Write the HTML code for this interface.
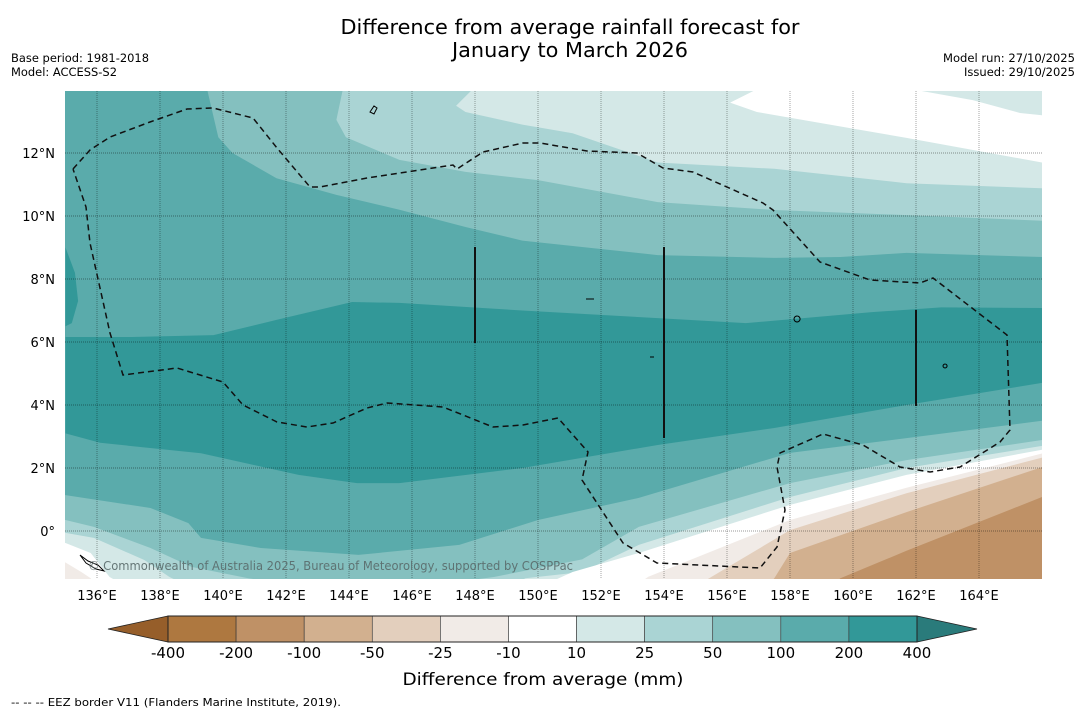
<!DOCTYPE html>
<html><head><meta charset="utf-8"><style>
body{margin:0;background:#fff;}
svg{display:block;font-family:"DejaVu Sans","Liberation Sans",sans-serif;}
</style></head><body>
<svg id="chart" width="1085" height="713" viewBox="0 0 1085 713" xmlns="http://www.w3.org/2000/svg">
<rect width="1085" height="713" fill="#fff"/>
<text x="570" y="34" text-anchor="middle" font-size="20" textLength="459" lengthAdjust="spacingAndGlyphs">Difference from average rainfall forecast for</text>
<text x="570" y="57" text-anchor="middle" font-size="20" textLength="236" lengthAdjust="spacingAndGlyphs">January to March 2026</text>
<text x="11" y="62" font-size="11.5" textLength="138" lengthAdjust="spacingAndGlyphs">Base period: 1981-2018</text>
<text x="11" y="76" font-size="11.5" textLength="106" lengthAdjust="spacingAndGlyphs">Model: ACCESS-S2</text>
<text x="1075" y="62" font-size="11.5" text-anchor="end" textLength="132" lengthAdjust="spacingAndGlyphs">Model run: 27/10/2025</text>
<text x="1075" y="76" font-size="11.5" text-anchor="end" textLength="111" lengthAdjust="spacingAndGlyphs">Issued: 29/10/2025</text>
<defs><clipPath id="mapclip"><rect x="65" y="91" width="977" height="488"/></clipPath></defs>
<g id="map" clip-path="url(#mapclip)"></g>
<g id="axes"></g>
<g id="cbar"></g>
<text x="543" y="685" text-anchor="middle" font-size="17" textLength="281" lengthAdjust="spacingAndGlyphs">Difference from average (mm)</text>
<text x="11" y="706" font-size="11" textLength="330" lengthAdjust="spacingAndGlyphs">--  --  -- EEZ border V11 (Flanders Marine Institute, 2019).</text>
</svg>
<script>
// Contour boundaries (lon arrays / lat arrays)
const c100nLon=[139.5,139.85,140.3,141.7,143.6,145.6,147.7,149.5,153.8,157.5,159.6,161.7,166];
const c100nLat=[14,12.5,12.0,11.2,10.67,10.2,9.65,9.22,8.76,8.67,8.7,8.83,8.7];
const c50nLon=[143.8,143.6,143.9,145.6,147.7,150.0,153.8,157.5,161.7,166];
const c50nLat=[14,13.05,12.5,11.78,11.4,11.14,10.44,10.19,10.03,9.85];
const c25nLon=[147.9,147.4,147.7,149.5,151.1,153.8,157.5,161.7,166];
const c25nLat=[14,13.5,13.3,12.9,12.63,11.7,11.5,11.04,10.88];
const c10nLon=[156.9,156.1,156.95,161.7,166];
const c10nLat=[14,13.6,13.3,12.48,11.7];
const c10neLon=[162.0,163.8,165.3,166];
const c10neLat=[14,13.68,13.27,13.2];
const c200nLon=[135,137.1,139.7,141.7,144.1,145.6,149.5,153.8,156.6,160.6,162.8,166];
const c200nLat=[6.16,6.16,6.22,6.7,7.27,7.24,7.0,6.76,6.6,6.95,7.1,7.08];
const c200sLon=[135,136.1,139.3,142.4,144.25,145.6,149.5,153.8,157.5,161.7,166];
const c200sLat=[3.1,2.8,2.47,1.78,1.52,1.52,2.0,2.73,3.27,4.0,4.7];
const c100sLon=[135,137.7,138.9,139.3,141.2,144.3,147.5,150.0,153.2,158,161.7,166];
const c100sLat=[1.14,0.73,0.25,-0.22,-0.54,-0.76,-0.44,0.35,1.05,2.48,2.95,3.5];
const c50sLon=[135,135.9,137.7,139.0,140.8,143,146,148.6,151.4,153.2,158,161.7,166];
const c50sLat=[0.35,0.13,-0.54,-1.14,-1.5,-1.8,-1.8,-1.46,-0.9,0.13,1.52,2.25,2.89];
const c25sLon=[135,135.9,137.5,138.3,139,149,149.6,151.4,153.2,158,161.7,166];
const c25sLat=[-0.06,-0.22,-0.92,-1.46,-1.8,-1.8,-1.5,-1.3,-0.44,1.08,2.0,2.7];
const c10sLon=[135,135.8,136.4,137,150,151.1,153.2,158,161.7,166];
const c10sLat=[-0.38,-0.7,-1.46,-1.8,-1.8,-1.3,-0.7,0.83,1.78,2.58];
const cm10Lon=[135,135.5,135.8,136,153,153.5,158,161.7,166];
const cm10Lat=[-1.0,-1.3,-1.5,-1.8,-1.8,-1.45,0.35,1.37,2.46];
const cm25Lon=[155,155.4,158,161.7,166];
const cm25Lat=[-1.8,-1.52,0.03,1.2,2.33];
const cm50Lon=[157.2,157.5,158,161.7,166];
const cm50Lat=[-1.8,-1.5,-0.7,0.6,2.03];
const cm100Lon=[159.2,159.6,161.7,166];
const cm100Lat=[-1.8,-1.5,-0.63,1.08];
// colorbar
const levels=["-400","-200","-100","-50","-25","-10","10","25","50","100","200","400"];
const binColors=["#ae7840","#bf9166","#d2b08f","#e3cfbd","#f1ebe7","#ffffff","#d4e8e7","#aad4d4","#84c0bf","#5aabab","#329898"];
const lonTicks=[136,138,140,142,144,146,148,150,152,154,156,158,160,162,164];
const latTicks=[0,2,4,6,8,10,12];

const NS="http://www.w3.org/2000/svg";
const X=lon=>97+(lon-136)*31.5;
const Y=lat=>531-lat*31.5;
function el(tag,attrs,parent){const e=document.createElementNS(NS,tag);for(const k in attrs)e.setAttribute(k,attrs[k]);parent.appendChild(e);return e;}
const map=document.getElementById('map');
function pts(lons,lats){return lons.map((l,i)=>X(l).toFixed(1)+','+Y(lats[i]).toFixed(1));}
function fillAbove(lons,lats,color,name){
  const p=pts(lons,lats);p.push(X(166.5)+','+Y(lats[lats.length-1]));p.push(X(166.5)+','+Y(14.5));p.push(X(lons[0])+','+Y(14.5));
  const e=el('polygon',{points:p.join(' '),fill:color,stroke:'#9fb',"stroke-opacity":0.0},map);
  
  
}
function fillBelow(lons,lats,color,name){
  const p=pts(lons,lats);p.push(X(166.5)+','+Y(lats[lats.length-1]));p.push(X(166.5)+','+Y(-2.5));p.push(X(134)+','+Y(-2.5));p.push(X(134)+','+Y(lats[0]));
  const e=el('polygon',{points:p.join(' '),fill:color},map);
  
  
}
const bg=el('rect',{x:60,y:85,width:990,height:500,fill:binColors[9]},map);


fillAbove(c100nLon,c100nLat,binColors[8],'band-50-100-north');
fillAbove(c50nLon,c50nLat,binColors[7],'band-25-50-north');
fillAbove(c25nLon,c25nLat,binColors[6],'band-10-25-north');
fillAbove(c10nLon,c10nLat,binColors[5],'band-neutral-north');
fillAbove(c10neLon,c10neLat,binColors[6],'band-10-25-northeast');
{const p=pts(c200nLon,c200nLat).concat(pts(c200sLon,c200sLat).reverse());
 const e=el('polygon',{points:p.join(' '),fill:binColors[10]},map);
 
 
 const w=el('polygon',{points:[X(135)+','+Y(9.0),X(135.3)+','+Y(8.2),X(135.4)+','+Y(7.3),X(135.2)+','+Y(6.6),X(135)+','+Y(6.5)].join(' '),fill:binColors[10]},map);
 
 }
fillBelow(c100sLon,c100sLat,binColors[8],'band-50-100-south');
fillBelow(c50sLon,c50sLat,binColors[7],'band-25-50-south');
fillBelow(c25sLon,c25sLat,binColors[6],'band-10-25-south');
fillBelow(c10sLon,c10sLat,binColors[5],'band-neutral-south');
fillBelow(cm10Lon,cm10Lat,binColors[4],'band-minus10-25');
fillBelow(cm25Lon,cm25Lat,binColors[3],'band-minus25-50');
fillBelow(cm50Lon,cm50Lat,binColors[2],'band-minus50-100');
fillBelow(cm100Lon,cm100Lat,binColors[1],'band-minus100-200');
// gridlines
lonTicks.forEach(l=>{const g=el('line',{x1:X(l),x2:X(l),y1:91,y2:579,stroke:'#000','stroke-opacity':0.35,'stroke-width':1,'stroke-dasharray':'1,1'},map);
 
 });
latTicks.forEach(l=>{const g=el('line',{x1:65,x2:1042,y1:Y(l),y2:Y(l),stroke:'#000','stroke-opacity':0.4,'stroke-width':1,'stroke-dasharray':'1,1'},map);
 
 });
// EEZ dashed border (pixel geometry)
const eez="73,169 90,150 110,137 150,122 187,109 213,108 253,118 277,148 310,187 320,187 367,178 453,165 457,169 483,152 523,143 540,143 587,151 637,153 663,168 693,172 763,203 773,210 820,262 870,280 920,283 933,278 1007,335 1010,430 1000,442 960,467 930,472 900,467 863,445 823,434 780,453 777,467 785,510 777,547 760,568 657,563 623,543 582,480 588,452 558,418 523,425 493,427 443,407 387,403 367,408 333,423 307,427 277,422 243,405 223,382 177,368 123,375 110,333 90,243 86,207 73,169";
const ez=el('polyline',{points:eez,fill:'none',stroke:'#111','stroke-width':1.5,'stroke-dasharray':'6,4'},map);


[[475,247,343],[664,247,438],[916,310,406]].forEach(v=>{const l=el('line',{x1:v[0],x2:v[0],y1:v[1],y2:v[2],stroke:'#111','stroke-width':2},map);
 
 });
// islands (small marks)
const isl=el('path',{d:"M370,112 l4,-6 l3,2 l-3,6 z M80,555 l8,6 l10,4 l6,6 l-8,-2 l-10,-6 z M586,299 h8 M650,357 h4 M797,316 a3,3 0 1,0 0.1,0 M945,364 a2,2 0 1,0 0.1,0",fill:'none',stroke:'#000','stroke-width':1},map);


const cp=el('text',{x:88,y:570,'font-size':12,fill:'#5a6a6a','fill-opacity':0.9,textLength:485,lengthAdjust:'spacingAndGlyphs'},map);
cp.textContent='© Commonwealth of Australia 2025, Bureau of Meteorology, supported by COSPPac';


// axis labels
const axes=document.getElementById('axes');
lonTicks.forEach(l=>{const t=el('text',{x:X(l),y:600,'font-size':13,'text-anchor':'middle'},axes);t.textContent=l+'°E';
 
 });
latTicks.forEach(l=>{const t=el('text',{x:55,y:Y(l)+5,'font-size':13,'text-anchor':'end'},axes);t.textContent=l===0?'0°':l+'°N';
 
 });
// colorbar
const cb=document.getElementById('cbar');
const cx0=168,cw=(917-168)/binColors.length,cy=616,ch=26;
const lt=el('polygon',{points:`108,${cy+ch/2} ${cx0},${cy} ${cx0},${cy+ch}`,fill:'#965e2a',stroke:'#222','stroke-width':0.8},cb);


const rt=el('polygon',{points:`977,${cy+ch/2} 917,${cy} 917,${cy+ch}`,fill:'#2a7b7b',stroke:'#222','stroke-width':0.8},cb);


binColors.forEach((c,i)=>{const r=el('rect',{x:cx0+i*cw,y:cy,width:cw,height:ch,fill:c,stroke:'#333','stroke-width':0.6},cb);
 
 });
el('rect',{x:cx0,y:cy,width:917-cx0,height:ch,fill:'none',stroke:'#222','stroke-width':1},cb);
levels.forEach((s,i)=>{const t=el('text',{x:cx0+i*cw,y:658,'font-size':15,'text-anchor':'middle'},cb);t.textContent=s;
 
 });
</script>
</body></html>
